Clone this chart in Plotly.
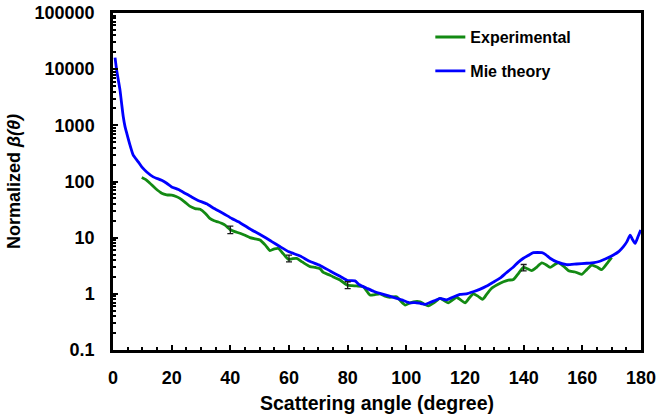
import plotly.graph_objects as go

# Mie theory phase function (normalized)
mie_angle = [0.7, 1.2, 1.8, 2.4, 3.0, 3.5, 4.1, 4.7, 5.8, 6.9, 8.6, 9.8, 11.5, 13.7, 16.6,
             18.3, 20, 22.3, 24.5, 26.8, 29, 31.9, 34.5, 37.6, 40.5, 43.3, 47, 50, 54, 57,
             60, 63.8, 67, 70.6, 74, 77.4, 80, 82.5, 84, 86.5, 89, 91, 94, 96.7, 99, 101.2,
             103, 104.5, 106.4, 108, 110, 111.5, 113.7, 116, 118.3, 120.5, 122.8, 125, 127.4,
             129.5, 131.9, 134, 136.5, 138, 139.9, 141.5, 143.3, 146.2, 147.5, 149, 151.3,
             154.7, 158, 161.5, 164, 166, 168, 170.6, 172.5, 174, 175.2, 176.3, 177, 178,
             179, 179.9]
mie_beta = [16000, 10000, 6500, 4200, 2300, 1420, 950, 720, 445, 295, 224, 182, 148, 121, 105,
            93, 80, 72, 62, 53, 46, 40, 33, 27, 22, 18.5, 14, 11.5, 8.6, 6.9,
            5.6, 4.7, 3.8, 3.2, 2.55, 2.05, 1.72, 1.7, 1.45, 1.26, 1.1, 1.02, 0.92, 0.83, 0.76, 0.69,
            0.7, 0.68, 0.65, 0.7, 0.77, 0.83, 0.78, 0.88, 0.98, 1.0, 1.09, 1.2, 1.38,
            1.6, 1.9, 2.35, 3.0, 3.6, 4.3, 4.8, 5.4, 5.4, 5.0, 4.3, 3.7,
            3.3, 3.4, 3.5, 3.6, 3.8, 4.2, 4.9, 5.7, 6.9, 8.5, 11.1, 9.5, 7.9,
            10.5, 13.7]

# Measured phase function
exp_angle = [9.8, 11.2, 12.6, 14.5, 16.6, 18.3, 20, 21.5, 22.8, 24.5, 26.3, 28, 29.7, 31.5, 33,
             34.5, 35.9, 37, 38.2, 39.9, 41.5, 43.3, 45, 46.7, 48.5, 50.1, 52, 53.5, 55, 56.4,
             58, 59.8, 61, 62.6, 64.5, 67.2, 69, 70.6, 71.7, 74, 75.1, 77.4, 79.7, 81.5, 83,
             85.3, 87.6, 89, 91, 92.5, 94.4, 96.7, 98, 99.6, 101, 102.4, 104.7, 106, 107.5,
             109.5, 111.5, 113, 114.3, 115.8, 117.1, 118.5, 120, 121.5, 122.8, 124.5, 126,
             127.5, 129.1, 131, 133.1, 134.8, 136.5, 138.2, 139.9, 141.3, 142.7, 144.5, 146.2,
             147.6, 149, 150.5, 151.9, 153.6, 155.3, 157.5, 159.8, 161.5, 163.2, 165, 166.6,
             168.3, 170]
exp_beta = [118, 108, 93, 75, 62, 58, 57, 54, 50, 43, 36, 33, 32, 27, 22,
            20, 19, 18, 16.7, 14, 12.8, 12, 11, 10, 9.5, 9.1, 7.3, 5.9, 6.3, 6.4,
            5.2, 4.1, 4.2, 4.27, 3.7, 3.05, 2.95, 2.8, 2.4, 2.15, 2.0, 1.76, 1.44, 1.4, 1.38,
            1.34, 0.95, 0.96, 1.0, 0.92, 0.87, 0.89, 0.75, 0.63, 0.68, 0.72, 0.72, 0.66, 0.61,
            0.7, 0.83, 0.75, 0.69, 0.78, 0.87, 0.78, 0.69, 0.85, 1.0, 0.9, 0.8,
            1.0, 1.26, 1.45, 1.64, 1.75, 1.8, 2.3, 2.96, 2.8, 2.58, 3.0, 3.57,
            3.3, 2.96, 3.3, 3.57, 3.1, 2.58, 2.45, 2.23, 2.7, 3.25, 3.0, 2.7,
            3.4, 4.45]

# Measurement uncertainty at selected angles
err_angle = [40, 60, 80, 140]
err_beta = [13.9, 4.3, 1.44, 2.95]
err_size = [2.1, 0.6, 0.2, 0.38]

x_ticks = [0, 20, 40, 60, 80, 100, 120, 140, 160, 180]
y_ticks = [0.1, 1, 10, 100, 1000, 10000, 100000]
y_labels = ["0.1", "1", "10", "100", "1000", "10000", "100000"]

FONT = "Liberation Sans, Arial, sans-serif"
GREEN = "#138a13"
BLUE = "#0000ff"

fig = go.Figure()
fig.add_trace(go.Scatter(x=exp_angle, y=exp_beta, mode="lines", name="Experimental",
                         line=dict(color=GREEN, width=2.8, shape="spline", smoothing=0.6),
                         legendgroup="a"))
fig.add_trace(go.Scatter(x=mie_angle, y=mie_beta, mode="lines", name="Mie theory",
                         line=dict(color=BLUE, width=2.8, shape="spline", smoothing=0.5),
                         legendgroup="b"))
fig.add_trace(go.Scatter(x=err_angle, y=err_beta, mode="markers", showlegend=False,
                         marker=dict(size=1, color="rgba(0,0,0,0)"),
                         error_y=dict(type="data", array=err_size, color="#1a1a1a",
                                      thickness=1.3, width=3)))

minor_y = [m * 10.0 ** k for k in range(-1, 5) for m in range(2, 10)]

fig.update_layout(
    width=659, height=418,
    margin=dict(l=113, r=18, t=13, b=68, autoexpand=False),
    paper_bgcolor="white", plot_bgcolor="white",
    font=dict(family=FONT, size=16, color="black", weight="bold"),
    showlegend=True,
    legend=dict(x=0.601, y=0.979, xanchor="left", yanchor="top",
                bgcolor="rgba(0,0,0,0)", tracegroupgap=10,
                font=dict(family=FONT, size=16, color="black", weight="bold")),
    xaxis=dict(range=[0, 180], tickvals=x_ticks, ticks="inside", ticklen=5, tickwidth=2,
               tickcolor="black", showline=True, linewidth=2.5, linecolor="black",
               mirror=True, showgrid=False, zeroline=False, automargin=False,
               tickfont=dict(family=FONT, size=18, color="black", weight="bold"),
               ticklabelstandoff=10,
               minor=dict(dtick=5, ticks="inside", ticklen=3, tickwidth=1.5,
                          tickcolor="black", showgrid=False),
               title=dict(text="Scattering angle (degree)", standoff=10,
                          font=dict(family=FONT, size=19.5, color="black", weight="bold"))),
    yaxis=dict(type="log", range=[-1, 5], tickvals=y_ticks, ticktext=y_labels,
               ticks="inside", ticklen=5, tickwidth=2, tickcolor="black",
               showline=True, linewidth=2.5, linecolor="black", mirror=True,
               showgrid=False, zeroline=False, automargin=False,
               tickfont=dict(family=FONT, size=18, color="black", weight="bold"),
               ticklabelstandoff=12,
               minor=dict(tickvals=minor_y, ticks="inside", ticklen=3, tickwidth=1.5,
                          tickcolor="black", showgrid=False),
               title=dict(text="Normalized <i>β(θ)</i>", standoff=10,
                          font=dict(family=FONT, size=18, color="black", weight="bold"))),
)

fig.write_html("out.html")
